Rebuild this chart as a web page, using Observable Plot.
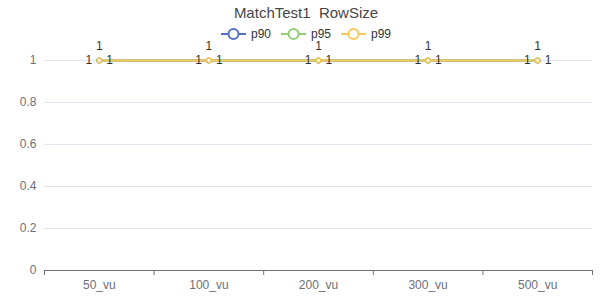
<!DOCTYPE html>
<html>
<head>
<meta charset="utf-8">
<script src="https://cdn.jsdelivr.net/npm/d3@7"></script>
<script src="https://cdn.jsdelivr.net/npm/@observablehq/plot@0.6"></script>
<style>
  html, body { margin: 0; padding: 0; background: #fff; }
  #wrap { position: relative; width: 616px; height: 300px; font-family: "Liberation Sans", Arial, sans-serif; }
  #chart { position: absolute; left: 0; top: 0; }
  #title { position: absolute; left: 0; width: 612px; top: 3px; text-align: center; font-size: 15px; color: #464646; line-height: 20px; white-space: pre; }
  #legend { position: absolute; left: 0; width: 612px; top: 27px; display: flex; justify-content: center; gap: 10px; font-size: 12px; color: #333; line-height: 14px; }
  .item { display: flex; align-items: center; gap: 5px; }
</style>
</head>
<body>
<div id="wrap">
  <div id="chart"></div>
  <div id="title"></div>
  <div id="legend"></div>
</div>
<script>
const title = "MatchTest1  RowSize";
const categories = ["50_vu", "100_vu", "200_vu", "300_vu", "500_vu"];
const p90 = [1, 1, 1, 1, 1];
const p95 = [1, 1, 1, 1, 1];
const p99 = [1, 1, 1, 1, 1];
const seriesNames = ["p90", "p95", "p99"];
const seriesColors = ["#5470c6", "#91cc75", "#fac858"];
const yTicks = [0, 0.2, 0.4, 0.6, 0.8, 1];

const seriesValues = [p90, p95, p99];
const data = seriesNames.flatMap((s, k) =>
  seriesValues[k].map((v, i) => ({series: s, cat: categories[i], pos: i + 0.5, value: v}))
);
const bySeries = (s) => data.filter(d => d.series === s);

const labelPlacement = {
  p90: {dx: 0, dy: -14, textAnchor: "middle"},
  p95: {dx: -7, dy: 0, textAnchor: "end"},
  p99: {dx: 7, dy: 0, textAnchor: "start"}
};

const marks = [
  Plot.gridY(yTicks.filter(t => t !== 0), {stroke: "#E0E6F1", strokeOpacity: 1}),
  Plot.axisY(yTicks, {tickSize: 0, tickPadding: 8, tickFormat: d => String(d), fill: "#6E7079", fontSize: 12, label: null}),
  Plot.ruleY([0], {stroke: "#6E7079"}),
  Plot.axisX(d3.range(categories.length + 1), {tickSize: 5, tickFormat: () => "", stroke: "#6E7079", label: null}),
  Plot.axisX(categories.map((c, i) => i + 0.5), {tickSize: 0, tickPadding: 10, tickFormat: d => categories[Math.floor(d)], fill: "#6E7079", fontSize: 12, label: null})
];
for (const s of seriesNames) {
  marks.push(Plot.line(bySeries(s), {x: "pos", y: "value", stroke: "series", strokeWidth: 2}));
}
for (const s of seriesNames) {
  marks.push(Plot.dot(bySeries(s), {x: "pos", y: "value", r: 2.2, stroke: "series", fill: "white", strokeWidth: 1.5}));
}
for (const s of seriesNames) {
  const p = labelPlacement[s];
  marks.push(Plot.text(bySeries(s), {x: "pos", y: "value", text: d => String(d.value), fill: "#333", fontSize: 12, dx: p.dx, dy: p.dy, textAnchor: p.textAnchor}));
}

const chart = Plot.plot({
  width: 616,
  height: 300,
  marginLeft: 44,
  marginRight: 24,
  marginTop: 60,
  marginBottom: 30,
  x: {type: "linear", domain: [0, categories.length], axis: null},
  y: {domain: [0, 1], axis: null},
  color: {domain: seriesNames, range: seriesColors},
  style: {fontFamily: "'Liberation Sans', Arial, sans-serif", fontSize: "12px", background: "white", overflow: "visible"},
  marks
});
document.getElementById("chart").appendChild(chart);

document.getElementById("title").textContent = title;
const legend = document.getElementById("legend");
seriesNames.forEach((s, k) => {
  const item = document.createElement("div");
  item.className = "item";
  item.innerHTML = `<svg width="25" height="14"><line x1="0" x2="25" y1="7" y2="7" stroke="${seriesColors[k]}" stroke-width="2"/><circle cx="12.5" cy="7" r="5" fill="white" stroke="${seriesColors[k]}" stroke-width="2"/></svg>`;
  const span = document.createElement("span");
  span.textContent = s;
  item.appendChild(span);
  legend.appendChild(item);
});
</script>
</body>
</html>
